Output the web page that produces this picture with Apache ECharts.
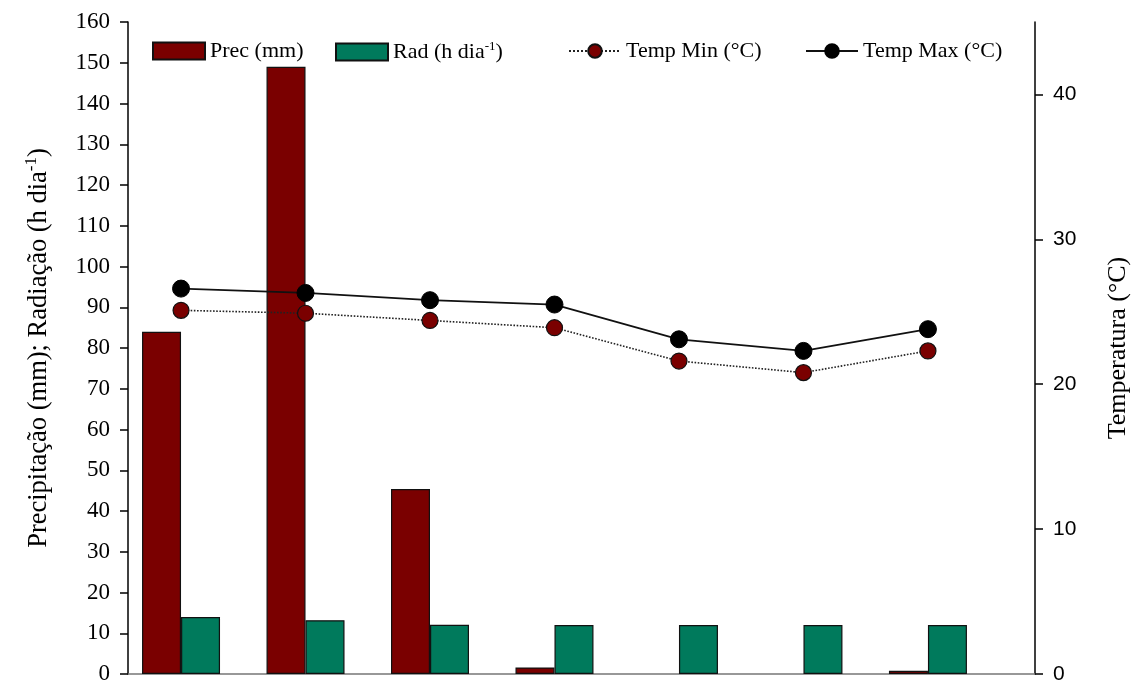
<!DOCTYPE html>
<html><head><meta charset="utf-8">
<script src="https://cdn.jsdelivr.net/npm/echarts@6/dist/echarts.min.js"></script>
<style>html,body{margin:0;padding:0;background:#fff}#c{width:1135px;height:682px}</style>
</head><body><div id="c"></div>
<script>
const categories = ['1','2','3','4','5','6','7'];
const prec = [84, 149, 45.4, 1.6, 0, 0, 0.8];
const rad = [14.0, 13.2, 12.1, 12.0, 12.0, 12.0, 12.0];
const tempMin = [25.1, 24.9, 24.4, 23.9, 21.6, 20.8, 22.3];
const tempMax = [26.6, 26.3, 25.8, 25.5, 23.1, 22.3, 23.8];
const leftTicks = [0,10,20,30,40,50,60,70,80,90,100,110,120,130,140,150,160];
const rightTicks = [0,10,20,30,40];

const pts = arr => arr.map((v,i)=>[i, v]);
const barPts = arr => arr.map((v,i)=> v === 0 ? {value:[i, v], itemStyle:{borderWidth:0}} : [i, v]);
const serif = 'Liberation Serif';
const chart = echarts.init(document.getElementById('c'));
const legendText = {fontFamily: serif, fontSize: 22, color:'#000',
  rich:{sup:{fontFamily: serif, fontSize: 13, padding:[0,0,11,0]}}};
function leg(name, left, icon){
  const o = {data:[name], left:left, top:35, itemWidth:52, itemHeight:17, itemGap:10,
    textStyle: legendText, selectedMode:false,
    formatter: n => n === 'Rad' ? 'Rad (h dia{sup|-1})' : n};
  if (icon) o.icon = icon;
  return o;
}
chart.setOption({
  animation:false,
  backgroundColor:'#fff',
  grid:{left:128, right:100, top:22, bottom:8, containLabel:false, outerBoundsMode:'none'},
  legend:[leg('Prec (mm)',147,'rect'), leg('Rad',330,'rect'), leg('Temp Min (°C)',563), leg('Temp Max (°C)',800)],
  xAxis:{type:'value', min:-0.426, max:6.86, splitLine:{show:false},
    axisLine:{show:true, onZero:false, lineStyle:{color:'#777', width:1.5}},
    axisTick:{show:false}, axisLabel:{show:false}},
  yAxis:[
    {type:'value', position:'left', min:0, max:160, interval:10,
     splitLine:{show:false},
     axisLine:{show:true, onZero:false, lineStyle:{color:'#000', width:1.5}},
     axisTick:{show:true, length:8, lineStyle:{color:'#000', width:1.5}},
     axisLabel:{fontFamily:serif, fontSize:23, color:'#000', margin:18,
       customValues:leftTicks},
     name:'Precipitação (mm); Radiação (h dia{sup|-1})',
     nameLocation:'middle', nameRotate:90, nameGap:72,
     nameTextStyle:{fontFamily:serif, fontSize:26.5, color:'#000',
       rich:{sup:{fontFamily:serif, fontSize:17, padding:[0,0,16,0]}}}},
    {type:'value', position:'right', min:0, max:45, interval:10,
     splitLine:{show:false},
     axisLine:{show:true, onZero:false, lineStyle:{color:'#000', width:1.5}},
     axisTick:{show:true, length:8, customValues:rightTicks, lineStyle:{color:'#000', width:1.5}},
     axisLabel:{fontFamily:'Liberation Sans', fontSize:21, color:'#000', margin:18,
       customValues:rightTicks},
     name:'Temperatura (°C)', nameLocation:'middle', nameRotate:90, nameGap:70,
     nameTextStyle:{fontFamily:serif, fontSize:26, color:'#000'}}
  ],
  series:[
    {name:'Prec (mm)', type:'bar', yAxisIndex:0, data:barPts(prec), barWidth:39, barGap:'0%',
     itemStyle:{color:'#7a0000', borderColor:'#111', borderWidth:1.2}},
    {name:'Rad', type:'bar', yAxisIndex:0, data:barPts(rad), barWidth:39, barGap:'0%',
     itemStyle:{color:'#007a5c', borderColor:'#111', borderWidth:1.2}},
    {name:'Temp Min (°C)', type:'line', yAxisIndex:1, data:pts(tempMin), z:5,
     symbol:'circle', symbolSize:16,
     lineStyle:{color:'#222', width:1.6, type:'dotted'},
     itemStyle:{color:'#7a0000', borderColor:'#111', borderWidth:1.2}},
    {name:'Temp Max (°C)', type:'line', yAxisIndex:1, data:pts(tempMax), z:6,
     symbol:'circle', symbolSize:17,
     lineStyle:{color:'#111', width:1.8},
     itemStyle:{color:'#000', borderColor:'#000', borderWidth:1}}
  ]
});
</script></body></html>
